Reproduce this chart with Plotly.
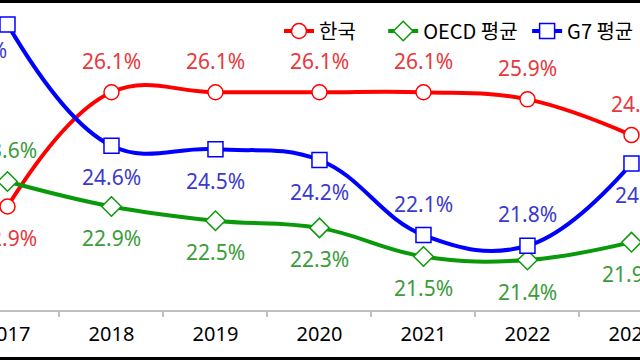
import plotly.graph_objects as go

years = [2017, 2018, 2019, 2020, 2021, 2022, 2023]
korea = [22.9, 26.1, 26.1, 26.1, 26.1, 25.9, 24.9]
oecd = [23.6, 22.9, 22.5, 22.3, 21.5, 21.4, 21.9]
g7 = [28.0, 24.6, 24.5, 24.2, 22.1, 21.8, 24.1]
names = ["한국", "OECD 평균", "G7 평균"]

# label placement: +1 above, -1 below (vertical offset in px = 31.5 * value)
korea_pos = [-1, 1, 1, 1, 1, 1, 1]
oecd_pos = [1, -1, -1, -1, -1, -1, -1]
g7_pos = [-0.8, -1, -1, -1, 1, 1, -1]
korea_dx = [0, 0, 0, 0, 0, 0, 9]
oecd_dx = [0, 0, 0, 0, 0, 0, 0]
g7_dx = [-30, 0, 0, 0, 0, 0, 13]

line_colors = ["#ff0000", "#0a990a", "#0000ff"]
text_colors = ["#e8373c", "#3a9c3a", "#3a3acc"]
symbols = ["circle", "diamond", "square"]
series = [korea, oecd, g7]
positions = [korea_pos, oecd_pos, g7_pos]
shifts = [korea_dx, oecd_dx, g7_dx]
pads = [5, 1, 2]
legend_names = [n + "\u00a0" * p for n, p in zip(names, pads)]

fig = go.Figure()
for s, nm, lc, sym in zip(series, legend_names, line_colors, symbols):
    fig.add_trace(go.Scatter(
        x=years, y=s, name=nm, mode="lines+markers",
        line=dict(color=lc, width=4, shape="spline", smoothing=1.15),
        marker=dict(symbol=sym, size=15,
                    color="white", line=dict(color=lc, width=1.5)),
        cliponaxis=False,
    ))

annotations = []
for s, pos, dx, tc in zip(series, positions, shifts, text_colors):
    for x, v, p, d in zip(years, s, pos, dx):
        annotations.append(dict(
            x=x, y=v, xref="x", yref="y", text=f"{v:.1f}%", showarrow=False,
            xshift=d, yshift=31.5 * p,
            font=dict(family="Noto Sans", size=21, color=tc),
        ))

fig.update_layout(
    width=640, height=360,
    margin=dict(l=0, r=0, t=0, b=50, autoexpand=False),
    paper_bgcolor="white", plot_bgcolor="white",
    showlegend=True,
    legend=dict(orientation="h", x=279 / 640, xanchor="left",
                y=1 - 31 / 310, yanchor="middle",
                font=dict(family="Noto Sans CJK KR", size=20, color="black"),
                bgcolor="rgba(0,0,0,0)", itemclick=False),
    xaxis=dict(range=[2016.928, 2023.082], autorange=False, automargin=False,
               tickvals=years, ticktext=[str(y) for y in years],
               ticklabeloverflow="allow", ticklabelstandoff=5,
               showline=True, linecolor="#bfbfbf", linewidth=1.5,
               ticks="", showgrid=False, zeroline=False,
               minor=dict(tick0=2016.5, dtick=1, ticks="outside", ticklen=5,
                          tickcolor="#bfbfbf", tickwidth=1.5, showgrid=False),
               tickfont=dict(family="Noto Sans", size=20, color="black")),
    yaxis=dict(range=[20, 28.683], autorange=False, visible=False, showgrid=False,
               automargin=False),
    annotations=annotations,
    shapes=[
        dict(type="rect", xref="paper", yref="y", x0=0, x1=1,
             y0=28.683 - 3 / 35.7, y1=28.683, fillcolor="black",
             line=dict(width=0), layer="above"),
        dict(type="rect", xref="paper", yref="paper", x0=-0.01, x1=1.01,
             y0=-52 / 310, y1=-47 / 310, fillcolor="black", line=dict(width=0), layer="above"),
    ],
)

fig.write_html("out.html", config={"displayModeBar": False},
               post_script="document.body.style.margin='0';document.body.style.overflow='hidden';")
